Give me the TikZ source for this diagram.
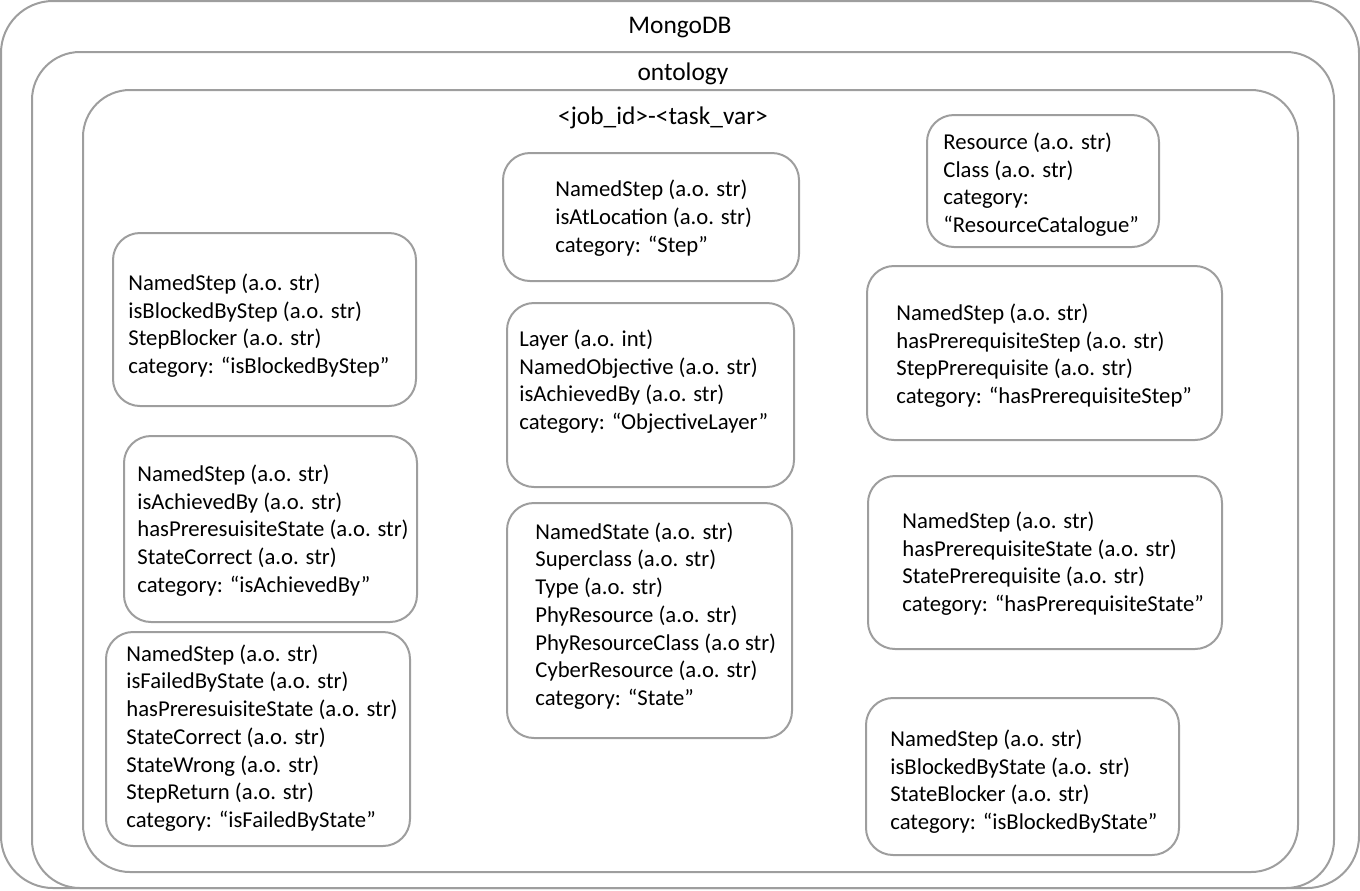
\documentclass[tikz,border=0pt]{standalone}
\usepackage{fontspec}
\setmainfont{Carlito}
\usepackage{tikz}
\colorlet{edge}{black!38}
\tikzset{
	frame/.style={draw=edge,line width=1pt,rounded corners=26pt,inner sep=0pt},
	card/.style={draw=edge,line width=1pt,rounded corners=13.5pt,inner sep=0pt},
	lines/.style={align=left,inner sep=0pt,anchor=west,font=\fontsize{11.35}{13.85}\selectfont},
	title/.style={inner sep=0pt,font=\fontsize{12.7}{15}\selectfont},
	}

\begin{document}
\begin{tikzpicture}[x=0.5pt,y=-0.5pt]
\useasboundingbox (0,0) rectangle (1360,890);
%CONTENITORI
\node[frame,minimum width=679pt,minimum height=443.5pt] (mongo) at (680,444.5) {};
\node[frame,rounded corners=24pt,minimum width=651pt,minimum height=418pt] (onto) at (683,470) {};
\node[frame,rounded corners=23.5pt,minimum width=607.5pt,minimum height=391pt] (job) at (690.5,481) {};
\node[title] (mongo-t) at (680,28) {MongoDB};
\node[title] (onto-t) at (683,74) {ontology};
\node[title] (job-t) at (663,118) {<job\_id>-<task\_var>};
%COLONNA SINISTRA
\node[card,minimum width=151.5pt,minimum height=86.5pt] (bstep) at (264.5,319.5) {};
\node[lines] (bstep-t) at (128,325.6) {NamedStep (a.o. str)\\isBlockedByStep (a.o. str)\\StepBlocker (a.o. str)\\category: “isBlockedByStep”};
\node[card,minimum width=146.5pt,minimum height=93pt] (achv) at (270.5,529) {};
\node[lines] (achv-t) at (137,530.4) {NamedStep (a.o. str)\\isAchievedBy (a.o. str)\\hasPreresuisiteState (a.o. str)\\StateCorrect (a.o. str)\\category: “isAchievedBy”};
\node[card,minimum width=152pt,minimum height=107pt] (fail) at (258,739) {};
\node[lines] (fail-t) at (126,738) {NamedStep (a.o. str)\\isFailedByState (a.o. str)\\hasPreresuisiteState (a.o. str)\\StateCorrect (a.o. str)\\StateWrong (a.o. str)\\StepReturn (a.o. str)\\category: “isFailedByState”};
%COLONNA CENTRALE
\node[card,minimum width=148pt,minimum height=64pt] (step) at (651,217) {};
\node[lines] (step-t) at (555,218) {NamedStep (a.o. str)\\isAtLocation (a.o. str)\\category: “Step”};
\node[card,minimum width=143.5pt,minimum height=92pt] (objl) at (650.5,395) {};
\node[lines] (objl-t) at (519,381.5) {Layer (a.o. int)\\NamedObjective (a.o. str)\\isAchievedBy (a.o. str)\\category: “ObjectiveLayer”};
\node[card,minimum width=142.5pt,minimum height=117.5pt] (state) at (649.5,620.5) {};
\node[lines] (state-t) at (535,616) {NamedState (a.o. str)\\Superclass (a.o. str)\\Type (a.o. str)\\PhyResource (a.o. str)\\PhyResourceClass (a.o str)\\CyberResource (a.o. str)\\category: “State”};
%COLONNA DESTRA
\node[card,minimum width=116pt,minimum height=66pt] (rescat) at (1043,181) {};
\node[lines] (rescat-t) at (943,184.5) {Resource (a.o. str)\\Class (a.o. str)\\category:\\“ResourceCatalogue”};
\node[card,minimum width=177.5pt,minimum height=87pt] (prestep) at (1044.5,353) {};
\node[lines] (prestep-t) at (896,355.5) {NamedStep (a.o. str)\\hasPrerequisiteStep (a.o. str)\\StepPrerequisite (a.o. str)\\category: “hasPrerequisiteStep”};
\node[card,minimum width=177pt,minimum height=86.5pt] (prestate) at (1045,562.5) {};
\node[lines] (prestate-t) at (902,563.5) {NamedStep (a.o. str)\\hasPrerequisiteState (a.o. str)\\StatePrerequisite (a.o. str)\\category: “hasPrerequisiteState”};
\node[card,minimum width=156.5pt,minimum height=78.5pt] (bstate) at (1022.5,776.5) {};
\node[lines] (bstate-t) at (890,781.5) {NamedStep (a.o. str)\\isBlockedByState (a.o. str)\\StateBlocker (a.o. str)\\category: “isBlockedByState”};
\end{tikzpicture}
\end{document}
